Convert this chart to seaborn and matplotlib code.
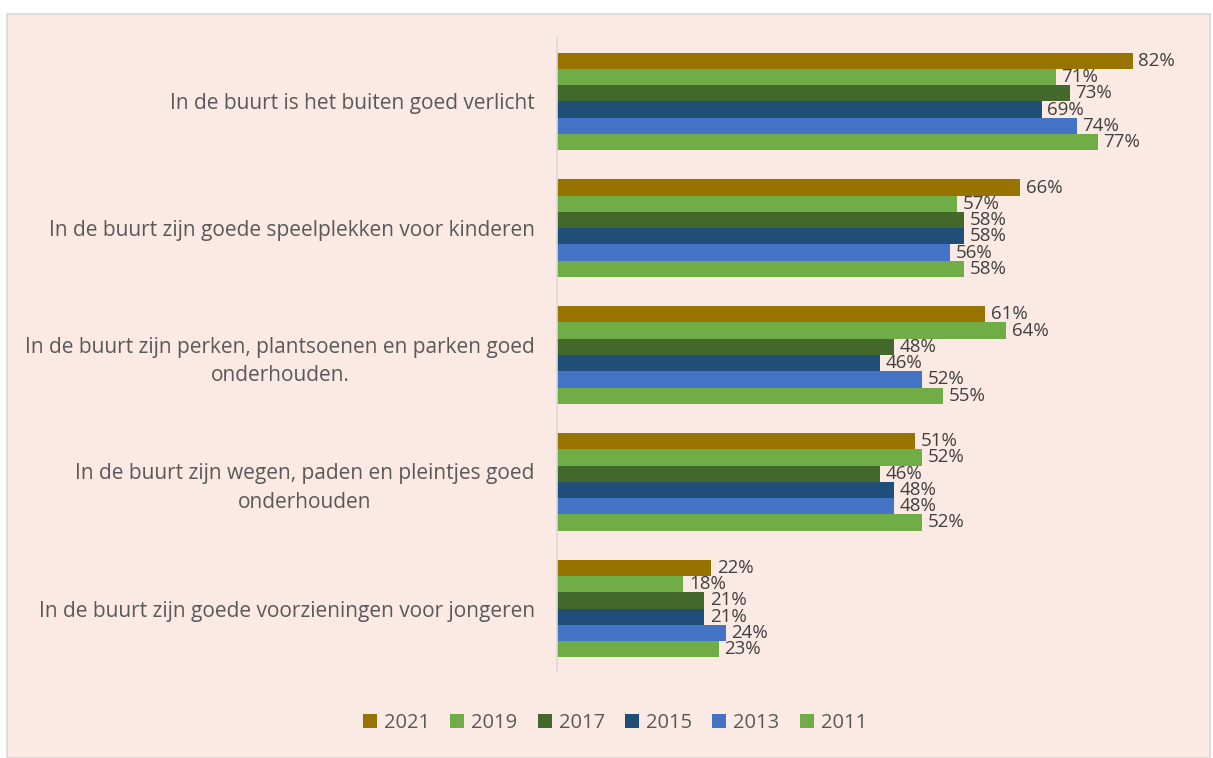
import pandas as pd
import numpy as np
import matplotlib.pyplot as plt
import seaborn as sns
from matplotlib.patches import Rectangle

## Data
stellingen = [
    'In de buurt is het buiten goed verlicht',
    'In de buurt zijn goede speelplekken voor kinderen',
    'In de buurt zijn perken, plantsoenen en parken goed\nonderhouden.',
    'In de buurt zijn wegen, paden en pleintjes goed\nonderhouden',
    'In de buurt zijn goede voorzieningen voor jongeren',
]
jaren = ['2021', '2019', '2017', '2015', '2013', '2011']
waarden_2021 = [82, 66, 61, 51, 22]
waarden_2019 = [71, 57, 64, 52, 18]
waarden_2017 = [73, 58, 48, 46, 21]
waarden_2015 = [69, 58, 46, 48, 21]
waarden_2013 = [74, 56, 52, 48, 24]
waarden_2011 = [77, 58, 55, 52, 23]

kleuren = ['#997300', '#70AD47', '#43682B', '#1F4E79', '#4472C4', '#70AD47']

reeksen = [waarden_2021, waarden_2019, waarden_2017, waarden_2015, waarden_2013, waarden_2011]
rows = []
for jaar, vals in zip(jaren, reeksen):
    for s, v in zip(stellingen, vals):
        rows.append({'stelling': s, 'jaar': jaar, 'pct': v})
df = pd.DataFrame(rows)

## Plot
sns.set_style('white')
plt.rcParams['font.family'] = ['Open Sans', 'DejaVu Sans']

fig = plt.figure(figsize=(12.13, 7.58), dpi=100, facecolor='white')
# achtergrond van het grafiekgebied
fig.patches.append(Rectangle((7 / 1213, 0), 1203 / 1213, 1 - 14 / 758,
                             transform=fig.transFigure, facecolor='#FBE9E3',
                             edgecolor='#D9D9D9', linewidth=1.2, zorder=-5))

ax = fig.add_axes([557 / 1213, 1 - 672 / 758, 632 / 1213, (672 - 38) / 758])
ax.set_facecolor('none')
ax.set_zorder(2)

sns.barplot(data=df, y='stelling', x='pct', hue='jaar', hue_order=jaren,
            palette=kleuren, orient='h', width=0.77, ax=ax, legend=True,
            saturation=1, linewidth=0)

for cont in ax.containers:
    ax.bar_label(cont, labels=[f'{int(v)}%' for v in cont.datavalues],
                 padding=4, fontsize=13.5, color='#404040')

ax.set_xlim(0, 90)
ax.set_xlabel('')
ax.set_ylabel('')
ax.set_xticks([])
ax.tick_params(axis='y', length=0, pad=16, labelsize=15, labelcolor='#595959')
for lbl in ax.get_yticklabels():
    lbl.set_multialignment('center')
    lbl.set_linespacing(1.45)

for side in ['top', 'right', 'bottom']:
    ax.spines[side].set_visible(False)
ax.spines['left'].set_color('#D9D9D9')
ax.spines['left'].set_linewidth(1.2)

handles, labels = ax.get_legend_handles_labels()
ax.legend_.remove()
for h in handles:
    h.set_edgecolor('none')
fig.legend(handles, labels, loc='center', bbox_to_anchor=(615 / 1213, 1 - 723 / 758),
           ncol=6, frameon=False, fontsize=14.5, handlelength=0.7, handleheight=0.7,
           columnspacing=1.0, handletextpad=0.35, labelcolor='#595959')

fig.savefig('out.png', dpi=100, facecolor=fig.get_facecolor())
